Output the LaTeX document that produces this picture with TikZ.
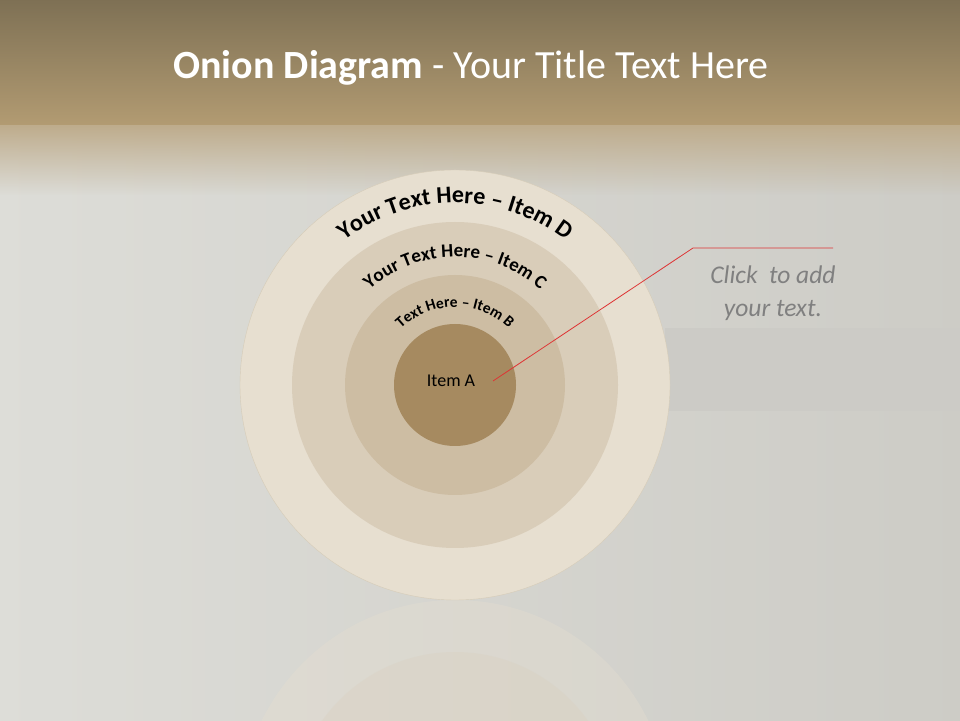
\documentclass[tikz,border=0pt]{standalone}
\usepackage{fontspec}
\setmainfont{Carlito}
\usetikzlibrary{decorations.text,fadings}

\definecolor{titletop}{RGB}{122,109,82}
\definecolor{titlebot}{RGB}{178,155,114}
\definecolor{fadetop}{RGB}{190,172,140}
\definecolor{bgleft}{RGB}{221,221,216}
\definecolor{bgright}{RGB}{205,204,198}
\definecolor{bandgray}{RGB}{204,203,198}
\definecolor{ringD}{RGB}{231,223,208}
\definecolor{ringC}{RGB}{217,205,185}
\definecolor{ringB}{RGB}{205,189,163}
\definecolor{ringA}{RGB}{166,138,96}
\definecolor{ringedge}{RGB}{214,204,184}
\definecolor{callred}{RGB}{222,52,52}
\definecolor{hintgray}{RGB}{128,128,128}

\tikzfading[name=fadedown, top color=transparent!0, bottom color=transparent!100]

\tikzset{
  ringtext/.style={decorate, decoration={text along path, text align=center, text={#1}}},
  hinttext/.style={text=hintgray, align=center, font=\itshape\fontsize{25.5}{33}\selectfont}
}

\begin{document}
\begin{tikzpicture}[x=1pt,y=1pt]
	\useasboundingbox (0,0) rectangle (960,720);
	% background
	\shade[left color=bgleft, right color=bgright] (-10,-10) rectangle (970,595);
	\fill[fadetop, path fading=fadedown] (-20,525) rectangle (980,595);
	\shade[top color=titletop, bottom color=titlebot] (-10,595) rectangle (970,730);
	\fill[bandgray] (665,309) rectangle (970,392);
	% reflection
	\begin{scope}
		\clip (0,0) rectangle (960,120);
		\fill[ringD, opacity=0.35] (455,-95) circle (215);
		\fill[ringC, opacity=0.25] (455,-95) circle (163);
	\end{scope}
	% onion
	\coordinate (c) at (455,335);
	\draw[draw=ringedge, fill=ringD, thin] (c) circle (215);
	\fill[ringC] (c) circle (163);
	\fill[ringB] (c) circle (110);
	\fill[ringA] (c) circle (61);
	\path[ringtext={|\bfseries\fontsize{24}{24}\selectfont|Your Text Here {–} Item D}]
		(c) ++(152:182) arc[start angle=152, end angle=28, radius=182];
	\path[ringtext={|\bfseries\fontsize{19}{19}\selectfont|Your Text Here {–} Item C}]
		(c) ++(150:128) arc[start angle=150, end angle=30, radius=128];
	\path[ringtext={|\bfseries\fontsize{15.5}{15.5}\selectfont|Text Here {–} Item B}]
		(c) ++(150:78) arc[start angle=150, end angle=30, radius=78];
	\node[font=\fontsize{18}{18}\selectfont] (itemA) at (451,339) {Item A};
	% title
	\node[text=white, font=\fontsize{40}{40}\selectfont] (title) at (471,652)
		{\textbf{Onion Diagram} - Your Title Text Here};
	% callout
	\coordinate (pin) at (493,339);
	\coordinate (elbow) at (693,472);
	\coordinate (tail) at (833,472);
	\draw[callred, line width=0.8pt] (pin) -- (elbow) -- (tail);
	\node[hinttext] (hint) at (773,427) {Click~ to add\\your text.};
\end{tikzpicture}
\end{document}
